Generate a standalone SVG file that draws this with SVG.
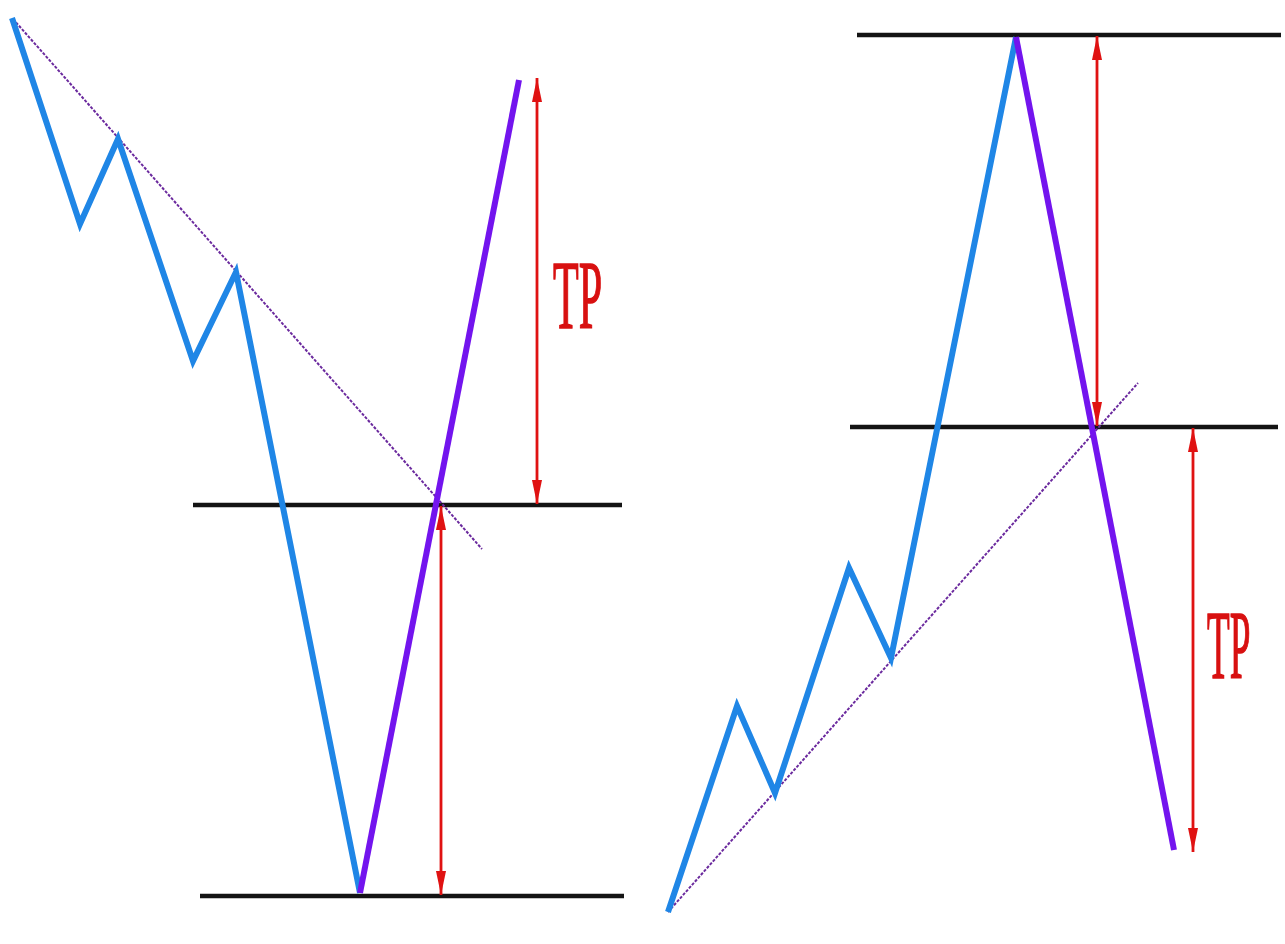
<svg xmlns="http://www.w3.org/2000/svg" width="1285" height="944" viewBox="0 0 1285 944">
<style>
.bg{fill:#ffffff}
.level{stroke:#141414;stroke-width:4.5;fill:none;stroke-linecap:butt}
.wave{stroke:#1f86e6;stroke-width:6;fill:none;stroke-linejoin:miter}
.move{stroke:#7314ee;stroke-width:6;fill:none}
.trend{stroke:#6b2a9e;stroke-width:2;fill:none;stroke-dasharray:3 1.5}
.tp{stroke:#e01212;stroke-width:2.8;fill:none;marker-start:url(#ah);marker-end:url(#ah)}
.lbl{font-family:"Liberation Serif","Times New Roman",serif;font-size:98px;fill:#d81010;stroke:#d81010;stroke-width:1.5}
</style>
<defs>
<marker id="ah" markerUnits="userSpaceOnUse" markerWidth="26" markerHeight="12" refX="24" refY="6" orient="auto-start-reverse">
<path d="M0,1 L24,6 L0,11 z" fill="#e01212"/>
</marker>
</defs>
<rect class="bg" x="0" y="0" width="1285" height="944"/>
<g id="left-chart">
<g id="left-levels">
<line class="level" x1="193" y1="505" x2="622" y2="505"/>
<line class="level" x1="200" y1="896" x2="624" y2="896"/>
</g>
<g id="left-trendline"><line class="trend" x1="13" y1="19" x2="482" y2="549"/></g>
<g id="left-wave"><polyline class="wave" points="12,18 80,224 118,139 193,361 236,272 360,893"/></g>
<g id="left-breakout"><line class="move" x1="360" y1="893" x2="519" y2="80"/></g>
<g id="connectors-left">
<line class="tp" x1="537" y1="504" x2="537" y2="78"/>
<line class="tp" x1="441" y1="895" x2="441" y2="506"/>
</g>
<g id="left-tp-label"><text class="lbl" transform="translate(553,328) scale(0.43,1)" x="0" y="0">TP</text></g>
</g>
<g id="right-chart">
<g id="right-levels">
<line class="level" x1="857" y1="35" x2="1281" y2="35"/>
<line class="level" x1="850" y1="427" x2="1278" y2="427"/>
</g>
<g id="right-trendline"><line class="trend" x1="668" y1="912" x2="1138" y2="383"/></g>
<g id="right-wave"><polyline class="wave" points="668,912 737,706 775,793 849,568 891,658 1016,37"/></g>
<g id="right-breakdown"><line class="move" x1="1016" y1="37" x2="1174" y2="850"/></g>
<g id="connectors-right">
<line class="tp" x1="1097" y1="426" x2="1097" y2="36"/>
<line class="tp" x1="1193" y1="428" x2="1193" y2="852"/>
</g>
<g id="right-tp-label"><text class="lbl" transform="translate(1207,678) scale(0.38,1)" x="0" y="0">TP</text></g>
</g>
</svg>
